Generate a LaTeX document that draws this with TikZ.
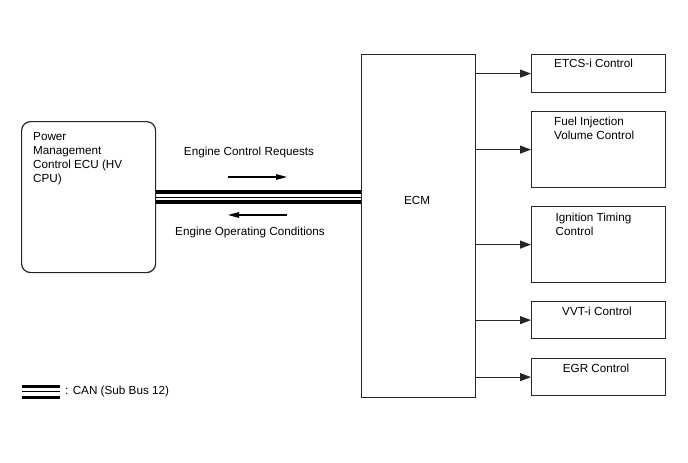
\documentclass[tikz,border=0pt]{standalone}
\usepackage{fontspec}
\setmainfont{Liberation Sans}
\usetikzlibrary{arrows.meta}
\begin{document}
\begin{tikzpicture}[x=1pt,y=-1pt,
  box/.style={draw=black!85,line width=1.2pt,inner sep=0pt,anchor=north west},
  txt/.style={inner sep=0pt,font=\fontsize{11.7}{14}\selectfont,align=left},
  arr/.style={draw=black!85,line width=1.1pt,-{Triangle[length=11pt,width=8pt]}},
  sarr/.style={draw=black,line width=1.1pt,-{Triangle[length=11pt,width=5.5pt]}},
  can/.style={draw=black,line width=3.5pt},
  canthin/.style={draw=black,line width=0.9pt}]
\useasboundingbox (0,0) rectangle (688,463);
% boxes
\node[box,rounded corners=9pt,minimum width=134pt,minimum height=151pt] (power) at (21,121) {};
\node[box,minimum width=114pt,minimum height=343pt] (ecm) at (361,54) {};
\node[box,minimum width=134pt,minimum height=38pt] (etcs) at (531,54) {};
\node[box,minimum width=134pt,minimum height=76pt] (fuel) at (531,111) {};
\node[box,minimum width=134pt,minimum height=76pt] (ign) at (531,206) {};
\node[box,minimum width=134pt,minimum height=37pt] (vvt) at (531,301) {};
\node[box,minimum width=134pt,minimum height=37pt] (egr) at (531,358) {};
% texts (multi-line: base = last line)
\node[txt,anchor=base west] (powert) at (33,182) {Power\\Management\\Control ECU (HV\\CPU)};
\node[txt,anchor=base] (ecmt) at (417,204) {ECM};
\node[txt,anchor=base west] (etcst) at (554,67.3) {ETCS-i Control};
\node[txt,anchor=base west] (fuelt) at (554,139.3) {Fuel Injection\\Volume Control};
\node[txt,anchor=base west] (ignt) at (555.5,235) {Ignition Timing\\Control};
\node[txt,anchor=base] (vvtt) at (597,315.7) {VVT-i Control};
\node[txt,anchor=base] (egrt) at (596,372) {EGR Control};
\node[txt,anchor=base] (reqt) at (249,155) {Engine Control Requests};
\node[txt,anchor=base] (condt) at (250,235.5) {Engine Operating Conditions};
% CAN bus
\draw[can] ([yshift=5pt]power.east) -- ([yshift=5pt]power.east -| ecm.west);
\draw[canthin] (power.east) -- (power.east -| ecm.west);
\draw[can] ([yshift=-5pt]power.east) -- ([yshift=-5pt]power.east -| ecm.west);
% direction arrows
\coordinate (r1) at (228,177);
\coordinate (r2) at (287,177);
\coordinate (l1) at (287,215);
\coordinate (l2) at (228,215);
\draw[sarr] (r1) -- (r2);
\draw[sarr] (l1) -- (l2);
% outputs
\draw[arr] (ecm.east |- etcs.west) -- (etcs.west);
\draw[arr] (ecm.east |- fuel.west) -- (fuel.west);
\draw[arr] (ecm.east |- ign.west) -- (ign.west);
\draw[arr] (ecm.east |- vvt.west) -- (vvt.west);
\draw[arr] (ecm.east |- egr.west) -- (egr.west);
% legend
\coordinate (lg1) at (22,386.3);
\coordinate (lg2) at (60,386.3);
\coordinate (lg3) at (22,391.5);
\coordinate (lg4) at (60,391.5);
\coordinate (lg5) at (22,397.3);
\coordinate (lg6) at (60,397.3);
\draw[draw=black,line width=3pt] (lg1) -- (lg2);
\draw[canthin] (lg3) -- (lg4);
\draw[draw=black,line width=3pt] (lg5) -- (lg6);
\node[txt,anchor=base west] (legt) at (65,394.3) {: CAN (Sub Bus 12)};
\end{tikzpicture}
\end{document}
